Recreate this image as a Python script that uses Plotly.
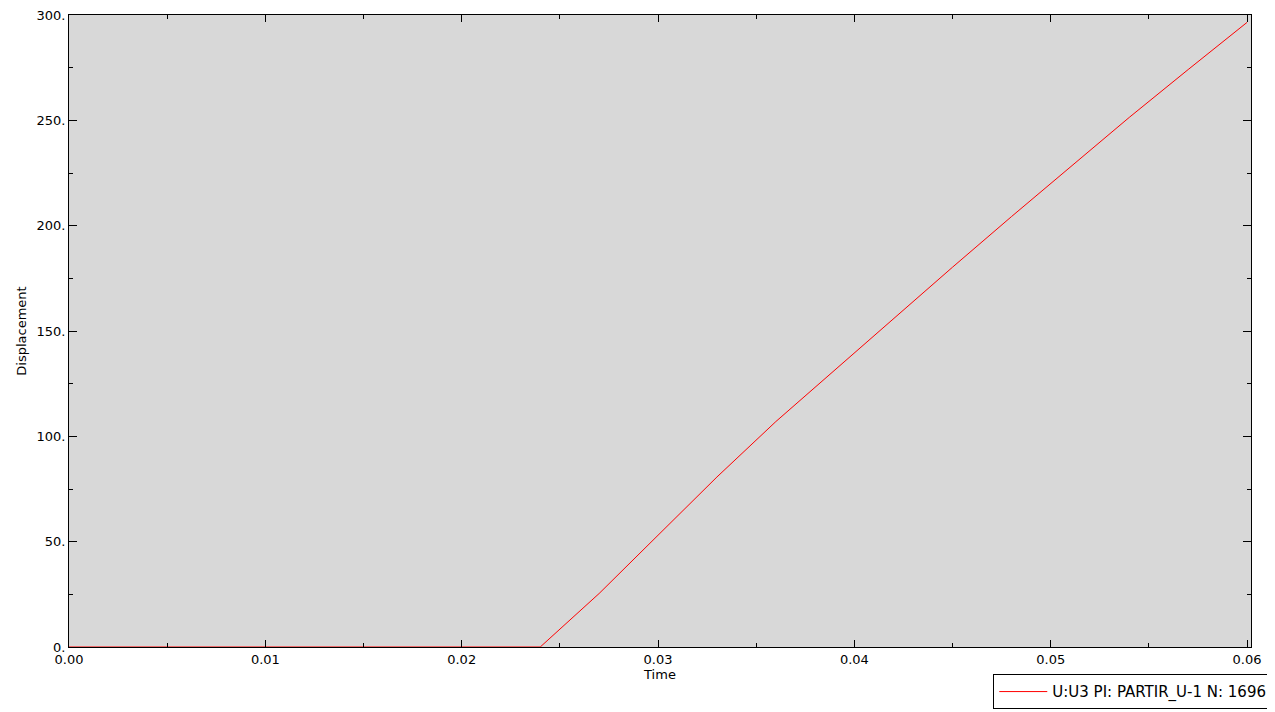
import plotly.graph_objects as go

time = [0.0, 0.003, 0.006, 0.009, 0.012, 0.015, 0.018, 0.021, 0.024, 0.027, 0.030,
        0.033, 0.036, 0.039, 0.042, 0.045, 0.048, 0.051, 0.054, 0.057, 0.060]
displacement = [0, 0, 0, 0, 0, 0, 0, 0, 0, 25.4, 53.0,
                80.7, 107.0, 131.5, 156.0, 180.3, 204.3, 228.0, 251.4, 274.1, 296.5]
series_name = "U:U3 PI: PARTIR_U-1 N: 1696"
y_tickvals = [0, 50, 100, 150, 200, 250, 300]
y_ticktext = ["0.", "50.", "100.", "150.", "200.", "250.", "300."]
x_tickvals = [0.0, 0.01, 0.02, 0.03, 0.04, 0.05, 0.06]
x_ticktext = ["0.00", "0.01", "0.02", "0.03", "0.04", "0.05", "0.06"]

font = dict(family="DejaVu Sans, Verdana, sans-serif", size=13, color="#000000")

fig = go.Figure()
fig.add_trace(go.Scatter(x=time, y=displacement, mode="lines", name=series_name,
                         line=dict(color="#ff0000", width=1), showlegend=True))

fig.update_layout(
    width=1267, height=704,
    margin=dict(l=61, r=24, t=7, b=65, autoexpand=False),
    paper_bgcolor="#ffffff", plot_bgcolor="#d8d8d8",
    font=font,
    showlegend=True,
    legend=dict(x=1.018, y=-0.0986, xanchor="right", yanchor="bottom",
                bgcolor="#ffffff", bordercolor="#000000", borderwidth=1,
                font=dict(family="DejaVu Sans, Verdana, sans-serif", size=15, color="#000000"),
                itemwidth=48, tracegroupgap=0),
    xaxis=dict(range=[0, 0.0602], tickvals=x_tickvals, ticktext=x_ticktext,
               ticks="inside", ticklen=7, tickcolor="#000000", tickwidth=1,
               minor=dict(dtick=0.005, tick0=0, ticks="inside", ticklen=4, tickcolor="#000000"),
               showgrid=False, zeroline=False, showline=True, linecolor="#000000",
               linewidth=1, mirror="allticks", tickfont=font, ticklabeloverflow="allow",
               title=dict(text="Time", standoff=2, font=font)),
    yaxis=dict(range=[0, 300], tickvals=y_tickvals, ticktext=y_ticktext,
               ticks="inside", ticklen=8, tickcolor="#000000", tickwidth=1,
               minor=dict(dtick=25, tick0=0, ticks="inside", ticklen=4, tickcolor="#000000"),
               showgrid=False, zeroline=False, showline=True, linecolor="#000000",
               linewidth=1, mirror="allticks", tickfont=font, ticklabeloverflow="allow",
               title=dict(text="Displacement", standoff=6, font=font)),
)

fig.write_html("out.html")
